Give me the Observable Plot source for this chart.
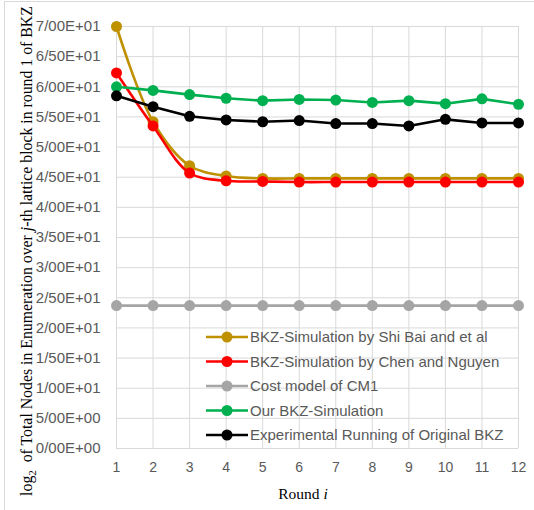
<!DOCTYPE html>
<html>
<head>
<meta charset="utf-8">
<script src="https://cdn.jsdelivr.net/npm/d3@7"></script>
<script src="https://cdn.jsdelivr.net/npm/@observablehq/plot@0.6"></script>
<style>
  html, body { margin: 0; padding: 0; background: #fff; }
  #chart { width: 534px; height: 510px; position: relative; }
</style>
</head>
<body>
<div id="chart"></div>
<script>
const rounds = [1, 2, 3, 4, 5, 6, 7, 8, 9, 10, 11, 12];
const shiBai = [70.0, 54.2, 46.9, 45.2, 44.8, 44.8, 44.8, 44.8, 44.8, 44.8, 44.8, 44.8];
const chenNguyen = [62.3, 53.5, 45.7, 44.4, 44.3, 44.2, 44.2, 44.2, 44.2, 44.2, 44.2, 44.2];
const costCM1 = [23.7, 23.7, 23.7, 23.7, 23.7, 23.7, 23.7, 23.7, 23.7, 23.7, 23.7, 23.7];
const ourSim = [60.0, 59.4, 58.7, 58.1, 57.7, 57.9, 57.8, 57.4, 57.7, 57.2, 58.0, 57.1];
const experimental = [58.5, 56.7, 55.1, 54.5, 54.2, 54.4, 53.9, 53.9, 53.5, 54.6, 54.0, 54.0];

const seriesNames = [
  "BKZ-Simulation by Shi Bai and et al",
  "BKZ-Simulation by Chen and Nguyen",
  "Cost model of CM1",
  "Our BKZ-Simulation",
  "Experimental Running of Original BKZ"
];
const seriesColors = ["#BF9000", "#FF0000", "#A5A5A5", "#00B050", "#000000"];
const seriesValues = [shiBai, chenNguyen, costCM1, ourSim, experimental];
const seriesCurves = ["catmull-rom", "catmull-rom", "linear", "linear", "linear"];

const yTicks = [0, 5, 10, 15, 20, 25, 30, 35, 40, 45, 50, 55, 60, 65, 70];
const yTickLabels = ["0/00E+00", "5/00E+00", "1/00E+01", "1/50E+01", "2/00E+01", "2/50E+01", "3/00E+01",
  "3/50E+01", "4/00E+01", "4/50E+01", "5/00E+01", "5/50E+01", "6/00E+01", "6/50E+01", "7/00E+01"];

const tables = seriesValues.map((vals, s) => rounds.map((r, i) => ({round: r, value: vals[i], series: seriesNames[s]})));

const lineMarks = [];
tables.forEach((t, s) => {
  lineMarks.push(Plot.line(t, {x: "round", y: "value", stroke: seriesColors[s], strokeWidth: 2.6, curve: seriesCurves[s]}));
  lineMarks.push(Plot.dot(t, {x: "round", y: "value", fill: seriesColors[s], r: 5.5}));
});

const plot = Plot.plot({
  width: 534,
  height: 510,
  marginLeft: 116,
  marginRight: 16,
  marginTop: 26,
  marginBottom: 62,
  style: {background: "#fff", overflow: "visible", fontFamily: "Liberation Sans, Arial, sans-serif"},
  x: {domain: [1, 12], ticks: rounds},
  y: {domain: [0, 70], ticks: yTicks},
  marks: [
    Plot.gridX(rounds, {stroke: "#d9d9d9", strokeOpacity: 1, strokeWidth: 1}),
    Plot.gridY(yTicks, {stroke: "#d9d9d9", strokeOpacity: 1, strokeWidth: 1}),
    Plot.axisX(rounds, {tickSize: 0, tickPadding: 14, fill: "#595959", label: null}),
    Plot.axisY(yTicks, {tickSize: 0, tickPadding: 16, fill: "#595959", label: null,
      tickFormat: d => yTickLabels[yTicks.indexOf(d)]}),
    ...lineMarks
  ]
});

document.getElementById("chart").appendChild(plot);

const svg = d3.select(plot);
svg.selectAll("text").style("font-size", "14px").style("font-family", "Liberation Sans, Arial, sans-serif");
svg.selectAll('g[aria-label="y-axis tick label"] text').style("font-size", "15px");

// outer border
svg.insert("rect", ":first-child")
  .attr("x", 4.5).attr("y", 1.5).attr("width", 540).attr("height", 520)
  .attr("fill", "none").attr("stroke", "#d9d9d9");

// x title
const xt = svg.append("text")
  .attr("x", 303).attr("y", 499)
  .attr("text-anchor", "middle")
  .style("font-family", "Liberation Serif, Times New Roman, serif")
  .style("font-size", "15.5px").attr("fill", "#000");
xt.append("tspan").text("Round ");
xt.append("tspan").attr("font-style", "italic").text("i");

// y title
const yt = svg.append("text")
  .attr("transform", "translate(32,251) rotate(-90)")
  .attr("text-anchor", "middle")
  .style("font-family", "Liberation Serif, Times New Roman, serif")
  .style("font-size", "15.8px").attr("fill", "#000");
yt.append("tspan").text("log");
yt.append("tspan").style("font-size", "11px").attr("dy", 4).text("2");
yt.append("tspan").attr("dy", -4).text("  of Total Nodes in Enumeration over ");
yt.append("tspan").attr("font-style", "italic").text("j");
yt.append("tspan").text("-th lattice block in round 1 of BKZ");

// legend
const lg = svg.append("g").style("font-family", "Liberation Sans, Arial, sans-serif")
  .style("font-size", "15px").attr("fill", "#595959").attr("text-anchor", "start");
seriesNames.forEach((name, i) => {
  const yy = 337 + i * 24.5;
  lg.append("line").attr("x1", 206).attr("x2", 248).attr("y1", yy).attr("y2", yy)
    .attr("stroke", seriesColors[i]).attr("stroke-width", 2.6);
  lg.append("circle").attr("cx", 227).attr("cy", yy).attr("r", 5.5).attr("fill", seriesColors[i]);
  lg.append("text").attr("x", 250).attr("y", yy).attr("dy", "0.35em").attr("text-anchor", "start").text(name);
});
</script>
</body>
</html>
